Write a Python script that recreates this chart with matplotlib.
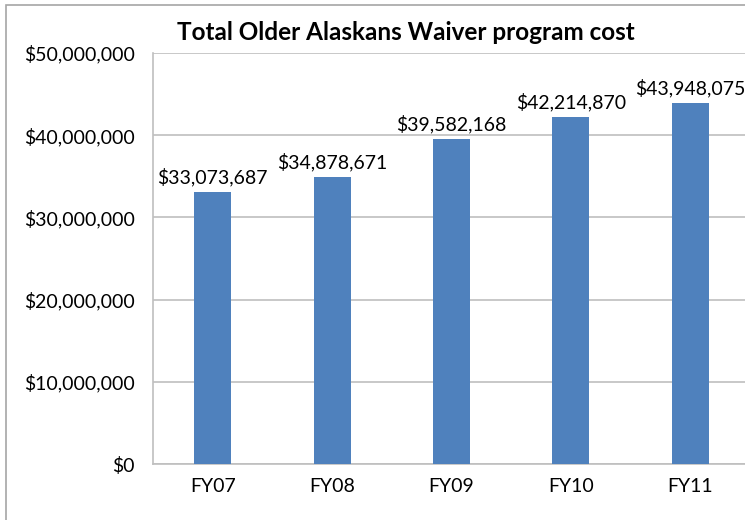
import matplotlib
matplotlib.use("Agg")
import matplotlib.pyplot as plt
from matplotlib.patches import Rectangle
from matplotlib.ticker import FuncFormatter

# Older Alaskans Waiver program cost by fiscal year
years = ["FY07", "FY08", "FY09", "FY10", "FY11"]
costs = [33073687, 34878671, 39582168, 42214870, 43948075]
y_ticks = [0, 10000000, 20000000, 30000000, 40000000, 50000000]

BAR_COLOR = "#4F81BD"
GRID_COLOR = "#BFBFBF"

plt.rcParams["font.family"] = ["Lato", "DejaVu Sans"]

fig = plt.figure(figsize=(7.45, 5.2), dpi=100)
ax = fig.add_axes([153 / 745, 1 - 464 / 520, 592 / 745, 411 / 520])

x = list(range(len(years)))
ax.bar(x, costs, width=0.31, color=BAR_COLOR, zorder=3)

for xi, v in zip(x, costs):
    ax.annotate(f"${v:,.0f}", (xi, v), xytext=(0, 4), textcoords="offset points",
                ha="center", va="bottom", fontsize=14, color="#000000")

ax.set_ylim(0, 50000000)
ax.set_xlim(-0.5, 4.46)
ax.set_yticks(y_ticks)
ax.yaxis.set_major_formatter(FuncFormatter(lambda v, _: f"${v:,.0f}"))
ax.set_xticks(x)
ax.set_xticklabels(years)
ax.tick_params(axis="both", length=0, labelsize=14, colors="#000000")
ax.tick_params(axis="y", pad=13)
ax.tick_params(axis="x", pad=10)

ax.grid(axis="y", color=GRID_COLOR, linewidth=1.2, zorder=0)
for side in ["top", "right"]:
    ax.spines[side].set_visible(False)
for side in ["left", "bottom"]:
    ax.spines[side].set_color(GRID_COLOR)
    ax.spines[side].set_linewidth(1.2)

fig.text(406 / 745, 1 - 32 / 520, "Total Older Alaskans Waiver program cost",
         ha="center", va="center", fontsize=17.5, fontweight="bold")

# chart area border (only left and top edges fall inside the image)
fig.patches.append(Rectangle((6 / 745, -0.1), 1.2, 1 - 5 / 520 + 0.1,
                             transform=fig.transFigure, fill=False,
                             edgecolor="#A6A6A6", linewidth=1.2))

fig.savefig("out.png", dpi=100)
